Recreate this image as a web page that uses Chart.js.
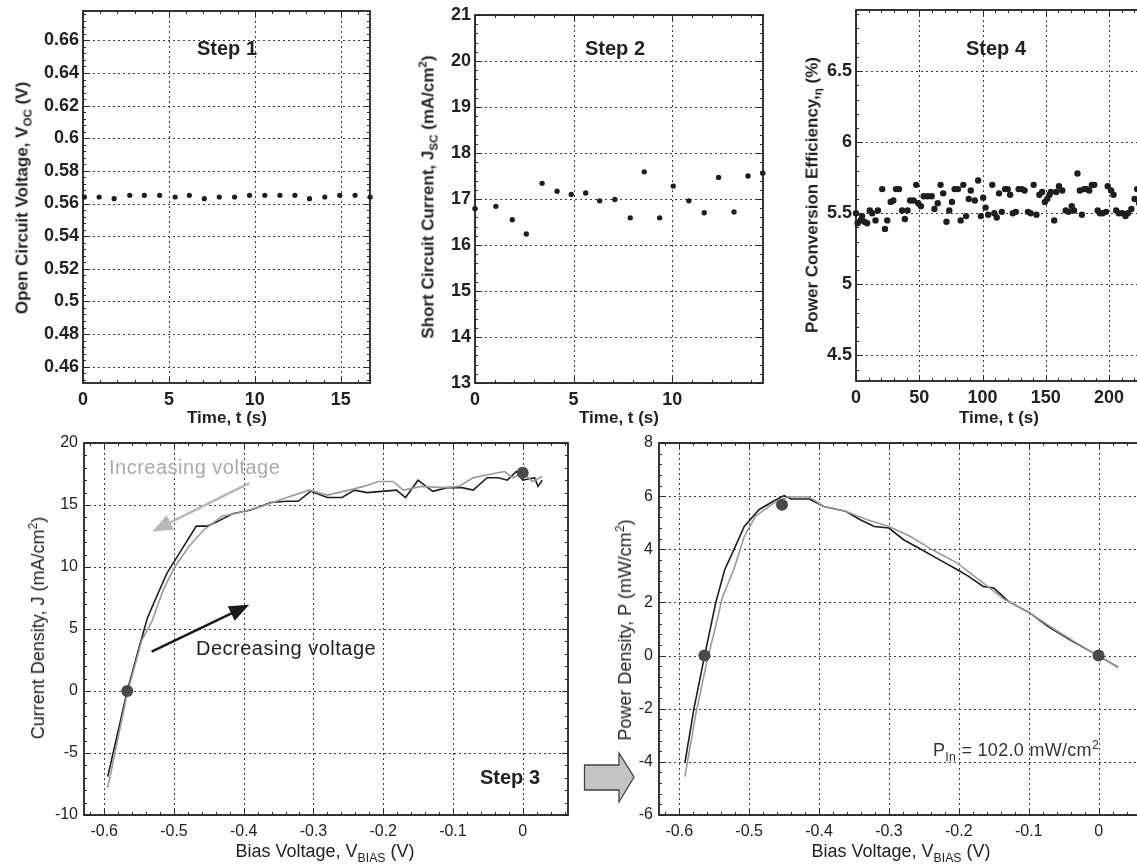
<!DOCTYPE html>
<html>
<head>
<meta charset="utf-8">
<script src="https://cdn.jsdelivr.net/npm/chart.js@4.4.0/dist/chart.umd.min.js"></script>
<style>
body{margin:0;width:1137px;height:864px;overflow:hidden;background:#fff;position:relative;font-family:"Liberation Sans",Arial,sans-serif;color:#222}
canvas{position:absolute}
.lbl{position:absolute;white-space:nowrap;line-height:1}
.b{font-weight:bold}
.c{transform:translate(-50%,-50%)}
.r{transform:translate(-50%,-50%) rotate(-90deg)}
.l{transform:translate(0,-50%)}
sub,sup{font-size:68%;line-height:0}
</style>
</head>
<body>
<canvas id="c1"></canvas>
<canvas id="c2"></canvas>
<canvas id="c3"></canvas>
<canvas id="c4"></canvas>
<canvas id="c5"></canvas>

<div class="lbl b r" style="left:22px;top:198px;font-size:17px">Open Circuit Voltage, V<sub>OC</sub> (V)</div>
<div class="lbl b r" style="left:428px;top:197px;font-size:17px">Short Circuit Current, J<sub>SC</sub> (mA/cm<sup>2</sup>)</div>
<div class="lbl b r" style="left:812px;top:195px;font-size:17px">Power Conversion Efficiency,<sub>η</sub> (%)</div>
<div class="lbl r" style="left:38px;top:628px;font-size:18px">Current Density, J (mA/cm<sup>2</sup>)</div>
<div class="lbl r" style="left:625px;top:630px;font-size:18px">Power Density, P (mW/cm<sup>2</sup>)</div>

<div class="lbl b c" style="left:227px;top:417px;font-size:17px">Time, t (s)</div>
<div class="lbl b c" style="left:619px;top:417px;font-size:17px">Time, t (s)</div>
<div class="lbl b c" style="left:999px;top:417px;font-size:17px">Time, t (s)</div>
<div class="lbl c" style="left:325px;top:851px;font-size:18px">Bias Voltage, V<sub>BIAS</sub> (V)</div>
<div class="lbl c" style="left:901px;top:851px;font-size:18px">Bias Voltage, V<sub>BIAS</sub> (V)</div>

<div class="lbl b c" style="left:227px;top:48px;font-size:20px">Step 1</div>
<div class="lbl b c" style="left:615px;top:48px;font-size:20px">Step 2</div>
<div class="lbl b c" style="left:996px;top:48px;font-size:20px">Step 4</div>
<div class="lbl b c" style="left:510px;top:777px;font-size:20px">Step 3</div>

<div class="lbl l" style="left:109px;top:467px;font-size:20px;letter-spacing:0.5px;color:#aaa">Increasing voltage</div>
<div class="lbl l" style="left:196px;top:648px;font-size:20px;letter-spacing:0.5px;color:#222">Decreasing voltage</div>
<div class="lbl l" style="left:933px;top:750px;font-size:18px;letter-spacing:0.3px;color:#333">P<sub>In</sub> = 102.0 mW/cm<sup>2</sup></div>

<svg style="position:absolute;left:0;top:0" width="1137" height="864">
  <polygon points="584.5,765 619,765 619,753 634,777 619,802 619,790 584.5,790" fill="#c4c4c4" stroke="#444" stroke-width="1.3"/>
</svg>

<script>
// Step 1: open circuit voltage vs time
var T1 = [0.08, 0.94, 1.81, 2.72, 3.57, 4.46, 5.36, 6.19, 7.06, 7.93, 8.82, 9.69, 10.58, 11.46, 12.33, 13.18, 14.07, 14.94, 15.83, 16.71];
var VOC = [0.564, 0.564, 0.563, 0.565, 0.565, 0.565, 0.564, 0.565, 0.563, 0.564, 0.564, 0.565, 0.565, 0.565, 0.565, 0.563, 0.564, 0.565, 0.565, 0.564];
var X1_TICKS = [0, 5, 10, 15];
var Y1_TICKS = [0.46, 0.48, 0.5, 0.52, 0.54, 0.56, 0.58, 0.6, 0.62, 0.64, 0.66];

// Step 2: short circuit current vs time
var T2 = [0, 1.06, 1.89, 2.6, 3.4, 4.16, 4.88, 5.61, 6.32, 7.09, 7.87, 8.58, 9.36, 10.05, 10.84, 11.62, 12.35, 13.13, 13.84, 14.59];
var JSC = [16.79, 16.84, 16.55, 16.24, 17.34, 17.17, 17.1, 17.13, 16.96, 16.99, 16.59, 17.59, 16.59, 17.28, 16.96, 16.7, 17.47, 16.72, 17.5, 17.56];
var X2_TICKS = [0, 5, 10];
var Y2_TICKS = [13, 14, 15, 16, 17, 18, 19, 20, 21];

// Step 4: efficiency vs time
var T4 = [0, 1.3, 3.5, 4.8, 6.6, 8.8, 10.9, 12.8, 15.4, 17.3, 20.7, 22.9, 24.7, 27.4, 29.5, 31.6, 34, 36.4, 38.6, 40.7,
  42.8, 45.5, 47.6, 49.2, 51.3, 53.5, 56.6, 59.8, 62, 64.6, 66.8, 68.9, 71.5, 73.7, 75.8, 77.9, 80.6, 82.7, 84.8, 87,
  89.1, 90.7, 93.9, 96.5, 98.7, 100.5, 102.4, 104.5, 107.7, 109.3, 111.2, 113, 115.2, 117.8, 119.9, 121.8, 123.9, 126.3, 128.5, 131.1,
  133.2, 135.9, 138, 140.4, 142.6, 144.9, 147.1, 149.2, 151.1, 152.9, 154, 156.6, 158.2, 160.4, 163, 165.7, 167.8, 170.5, 172.3, 175,
  176.9, 178.5, 180.3, 182.2, 184.3, 186.4, 188.3, 191, 192.8, 194.9, 197.6, 198.9, 201.6, 203.5, 205.6, 207.7, 210.4, 213, 214.9, 217.6,
  220.2, 222.1, 223.7];
var PCE = [5.5, 5.43, 5.45, 5.48, 5.44, 5.43, 5.52, 5.5, 5.45, 5.52, 5.67, 5.39, 5.45, 5.58, 5.59, 5.67, 5.67, 5.52, 5.46, 5.52,
  5.59, 5.59, 5.7, 5.57, 5.55, 5.62, 5.62, 5.62, 5.53, 5.57, 5.7, 5.64, 5.44, 5.52, 5.58, 5.67, 5.67, 5.45, 5.7, 5.48,
  5.6, 5.66, 5.59, 5.73, 5.48, 5.61, 5.54, 5.49, 5.7, 5.5, 5.47, 5.64, 5.51, 5.67, 5.67, 5.63, 5.5, 5.51, 5.67, 5.67,
  5.66, 5.51, 5.5, 5.7, 5.49, 5.63, 5.65, 5.58, 5.6, 5.63, 5.65, 5.45, 5.65, 5.69, 5.66, 5.52, 5.51, 5.55, 5.52, 5.78,
  5.66, 5.49, 5.67, 5.67, 5.66, 5.7, 5.7, 5.52, 5.5, 5.5, 5.51, 5.69, 5.66, 5.63, 5.52, 5.5, 5.5, 5.48, 5.5, 5.53,
  5.6, 5.67, 5.57];
var X4_TICKS = [0, 50, 100, 150, 200];
var Y4_TICKS = [4.5, 5, 5.5, 6, 6.5];

// Step 3: J-V sweeps
var V_DEC = [-0.595, -0.567, -0.551, -0.538, -0.525, -0.51, -0.489, -0.468, -0.452, -0.44, -0.416, -0.39, -0.361, -0.338, -0.322, -0.304, -0.28, -0.259,
  -0.241, -0.223, -0.202, -0.181, -0.168, -0.15, -0.129, -0.108, -0.087, -0.071, -0.051, -0.035, -0.022, -0.009, 0, 0.017, 0.022, 0.028];
var J_DEC = [-6.9, 0, 3.3, 5.9, 7.6, 9.5, 11.4, 13.3, 13.3, 13.6, 14.3, 14.6, 15.2, 15.3, 15.3, 16.1, 15.6, 15.6,
  16.2, 16, 16.1, 16.2, 15.6, 17, 16.1, 16.4, 16.4, 16.2, 17.2, 17.2, 17, 17.7, 17, 17.2, 16.5, 17];
var V_INC = [-0.595, -0.567, -0.546, -0.531, -0.515, -0.499, -0.478, -0.457, -0.431, -0.405, -0.374, -0.338, -0.306, -0.28, -0.249,
  -0.228, -0.207, -0.186, -0.171, -0.145, -0.113, -0.092, -0.071, -0.045, -0.026, -0.014, 0, 0.014, 0.028];
var J_INC = [-7.8, -0.2, 4.1, 5.7, 8.2, 10, 11.7, 13, 14.1, 14.4, 14.9, 15.6, 16.2, 15.8, 16.2,
  16.5, 16.9, 16.9, 16.2, 16.5, 16.4, 16.5, 17.2, 17.5, 17.7, 17.2, 17.6, 16.9, 17.3];
var JV_MARK_V = [-0.567, 0];
var JV_MARK_J = [0, 17.6];
var XV_TICKS = [-0.6, -0.5, -0.4, -0.3, -0.2, -0.1, 0];
var YJ_TICKS = [-10, -5, 0, 5, 10, 15, 20];

// power density
var PV_DEC = [-0.592, -0.579, -0.564, -0.548, -0.535, -0.522, -0.507, -0.486, -0.466, -0.45, -0.44, -0.414, -0.393, -0.362, -0.341,
  -0.321, -0.3, -0.279, -0.253, -0.228, -0.202, -0.186, -0.165, -0.15, -0.129, -0.098, -0.072, -0.041, 0, 0.028];
var P_DEC = [-4.05, -2, -0.04, 1.97, 3.23, 3.98, 4.86, 5.49, 5.8, 6.02, 5.89, 5.89, 5.61, 5.43, 5.11,
  4.86, 4.8, 4.36, 3.98, 3.61, 3.23, 2.98, 2.6, 2.54, 2.04, 1.6, 1.09, 0.59, -0.01, -0.44];
var PV_INC = [-0.592, -0.577, -0.561, -0.548, -0.538, -0.522, -0.507, -0.491, -0.466, -0.445, -0.432, -0.414, -0.393, -0.362, -0.331,
  -0.3, -0.269, -0.238, -0.202, -0.165, -0.134, -0.098, -0.062, -0.031, 0, 0.028];
var P_INC = [-4.56, -2.3, -0.29, 1.09, 2.22, 3.23, 4.48, 5.24, 5.72, 5.97, 5.97, 5.97, 5.61, 5.43, 5.11,
  4.86, 4.48, 3.98, 3.48, 2.73, 2.1, 1.6, 0.97, 0.47, -0.01, -0.44];
var PV_MARK_V = [-0.564, -0.453, 0];
var PV_MARK_P = [0, 5.68, 0];
var YP_TICKS = [-6, -4, -2, 0, 2, 4, 6, 8];

// annotation arrows in step 3 (data coordinates)
var ARROWS = [
  { from: [-0.392, 16.77], to: [-0.531, 12.87], color: '#b8b8b8' },
  { from: [-0.532, 3.18], to: [-0.392, 6.95], color: '#1a1a1a' }
];

var FONT = '"Liberation Sans", Arial, sans-serif';

function pts(xs, ys) {
  return xs.map(function (x, i) { return { x: x, y: ys[i] }; });
}

function drawLine(ctx, x1, y1, x2, y2) {
  ctx.beginPath(); ctx.moveTo(x1, y1); ctx.lineTo(x2, y2); ctx.stroke();
}

var framePlugin = {
  id: 'frame',
  beforeDatasetsDraw: function (chart, args, opts) {
    var ctx = chart.ctx, a = chart.chartArea, sx = chart.scales.x, sy = chart.scales.y;
    ctx.save();
    ctx.strokeStyle = '#3a3a3a'; ctx.lineWidth = 1; ctx.setLineDash([2, 3]);
    sx.ticks.forEach(function (t) {
      var p = Math.round(sx.getPixelForValue(t.value)) + 0.5;
      drawLine(ctx, p, a.top, p, a.bottom);
    });
    sy.ticks.forEach(function (t) {
      var p = Math.round(sy.getPixelForValue(t.value)) + 0.5;
      drawLine(ctx, a.left, p, a.right, p);
    });
    ctx.restore();
  },
  afterDatasetsDraw: function (chart, args, opts) {
    var ctx = chart.ctx, a = chart.chartArea, sx = chart.scales.x, sy = chart.scales.y;
    ctx.save();
    ctx.strokeStyle = '#2a2a2a'; ctx.lineWidth = 1;
    var k, v, p;
    var x0 = Math.ceil(sx.min / opts.mx - 1e-6);
    for (k = x0; k * opts.mx <= sx.max + 1e-9; k++) {
      v = k * opts.mx; p = Math.round(sx.getPixelForValue(v)) + 0.5;
      drawLine(ctx, p, a.bottom, p, a.bottom - 3);
      drawLine(ctx, p, a.top, p, a.top + 3);
    }
    var y0 = Math.ceil(sy.min / opts.my - 1e-6);
    for (k = y0; k * opts.my <= sy.max + 1e-9; k++) {
      v = k * opts.my; p = Math.round(sy.getPixelForValue(v)) + 0.5;
      drawLine(ctx, a.left, p, a.left + 3, p);
      drawLine(ctx, a.right, p, a.right - 3, p);
    }
    sx.ticks.forEach(function (t) {
      var q = Math.round(sx.getPixelForValue(t.value)) + 0.5;
      drawLine(ctx, q, a.bottom, q, a.bottom - 6);
      drawLine(ctx, q, a.top, q, a.top + 6);
    });
    sy.ticks.forEach(function (t) {
      var q = Math.round(sy.getPixelForValue(t.value)) + 0.5;
      drawLine(ctx, a.left, q, a.left + 6, q);
      drawLine(ctx, a.right, q, a.right - 6, q);
    });
    ctx.lineWidth = 1.8; ctx.strokeStyle = '#222';
    ctx.strokeRect(a.left, a.top, a.right - a.left, a.bottom - a.top);
    ctx.restore();
  }
};

var arrowPlugin = {
  id: 'arrows',
  afterDatasetsDraw: function (chart, args, opts) {
    if (!opts.list) return;
    var ctx = chart.ctx, sx = chart.scales.x, sy = chart.scales.y;
    opts.list.forEach(function (ar) {
      var x1 = sx.getPixelForValue(ar.from[0]), y1 = sy.getPixelForValue(ar.from[1]);
      var x2 = sx.getPixelForValue(ar.to[0]), y2 = sy.getPixelForValue(ar.to[1]);
      var ang = Math.atan2(y2 - y1, x2 - x1), hl = 20, hw = 8;
      var bx = x2 - hl * Math.cos(ang), by = y2 - hl * Math.sin(ang);
      ctx.save();
      ctx.strokeStyle = ar.color; ctx.fillStyle = ar.color; ctx.lineWidth = 2.5;
      drawLine(ctx, x1, y1, bx + 2 * Math.cos(ang), by + 2 * Math.sin(ang));
      ctx.beginPath();
      ctx.moveTo(x2, y2);
      ctx.lineTo(bx - hw * Math.sin(ang), by + hw * Math.cos(ang));
      ctx.lineTo(bx + hw * Math.sin(ang), by - hw * Math.cos(ang));
      ctx.closePath(); ctx.fill();
      ctx.restore();
    });
  }
};

function makePanel(id, area, pad, sc, datasets, tickFont, extra) {
  var cv = document.getElementById(id);
  var w = area.r - area.l + pad.l + pad.r, h = area.b - area.t + pad.t + pad.b;
  cv.width = w; cv.height = h;
  cv.style.width = w + 'px'; cv.style.height = h + 'px';
  cv.style.left = (area.l - pad.l) + 'px'; cv.style.top = (area.t - pad.t) + 'px';
  function axis(min, max, ticks, isX) {
    return {
      type: 'linear', min: min, max: max,
      grid: { display: false, drawTicks: false }, border: { display: false },
      afterBuildTicks: function (s) { s.ticks = ticks.map(function (v) { return { value: v }; }); },
      afterFit: function (s) {
        if (isX) s.height = pad.b; else s.width = pad.l;
        s.paddingLeft = 0; s.paddingRight = 0; s.paddingTop = 0; s.paddingBottom = 0;
      },
      ticks: {
        color: '#222', font: tickFont, padding: isX ? sc.xpad : sc.ypad,
        maxRotation: 0, autoSkip: false,
        callback: function (v) { return String(v); }
      }
    };
  }
  return new Chart(cv, {
    type: 'scatter',
    data: { datasets: datasets },
    options: {
      responsive: false, animation: false,
      layout: { padding: { top: pad.t, right: pad.r, left: 0, bottom: 0 }, autoPadding: false },
      plugins: {
        legend: { display: false }, tooltip: { enabled: false },
        frame: { mx: sc.mx, my: sc.my },
        arrows: { list: extra || null }
      },
      scales: {
        x: axis(sc.xmin, sc.xmax, sc.xt, true),
        y: axis(sc.ymin, sc.ymax, sc.yt, false)
      }
    },
    plugins: [framePlugin, arrowPlugin]
  });
}

function dots(xs, ys, r) {
  return { data: pts(xs, ys), pointRadius: r, pointBackgroundColor: '#1e1e1e', pointBorderWidth: 0, clip: false };
}
function curve(xs, ys, color) {
  return { data: pts(xs, ys), showLine: true, borderColor: color, borderWidth: 1.6, pointRadius: 0, tension: 0, clip: false };
}
function marks(xs, ys) {
  return { data: pts(xs, ys), pointRadius: 6, pointBackgroundColor: '#4a4a4a', pointBorderWidth: 0, clip: false };
}

var topFont = { family: FONT, size: 18, weight: 'bold' };
var botFont = { family: FONT, size: 16, weight: 'normal' };
var topPad = { l: 80, t: 10, r: 10, b: 30 };
var botPad = { l: 80, t: 10, r: 10, b: 30 };

makePanel('c1', { l: 83, t: 11, r: 370, b: 383 }, topPad,
  { xmin: 0, xmax: 16.7, ymin: 0.45, ymax: 0.678, xt: X1_TICKS, yt: Y1_TICKS, mx: 1, my: 0.004, xpad: 6, ypad: 4 },
  [dots(T1, VOC, 2.6)], topFont);

makePanel('c2', { l: 475, t: 15, r: 763, b: 383 }, topPad,
  { xmin: 0, xmax: 14.6, ymin: 13, ymax: 21, xt: X2_TICKS, yt: Y2_TICKS, mx: 1, my: 0.2, xpad: 6, ypad: 4 },
  [dots(T2, JSC, 2.7)], topFont);

makePanel('c3', { l: 856, t: 10, r: 1142, b: 381 }, topPad,
  { xmin: 0, xmax: 226, ymin: 4.32, ymax: 6.93, xt: X4_TICKS, yt: Y4_TICKS, mx: 10, my: 0.1, xpad: 6, ypad: 4 },
  [dots(T4, PCE, 3.2)], topFont);

makePanel('c4', { l: 84, t: 443, r: 568, b: 815 }, botPad,
  { xmin: -0.629, xmax: 0.065, ymin: -10, ymax: 20, xt: XV_TICKS, yt: YJ_TICKS, mx: 0.02, my: 1, xpad: 7, ypad: 6 },
  [marks(JV_MARK_V, JV_MARK_J), curve(V_INC, J_INC, '#9a9a9a'), curve(V_DEC, J_DEC, '#1e1e1e')], botFont, ARROWS);

makePanel('c5', { l: 659, t: 443, r: 1144, b: 815 }, botPad,
  { xmin: -0.629, xmax: 0.065, ymin: -6, ymax: 8, xt: XV_TICKS, yt: YP_TICKS, mx: 0.02, my: 0.4, xpad: 7, ypad: 6 },
  [marks(PV_MARK_V, PV_MARK_P), curve(PV_INC, P_INC, '#9a9a9a'), curve(PV_DEC, P_DEC, '#1e1e1e')], botFont);
</script>
</body>
</html>
